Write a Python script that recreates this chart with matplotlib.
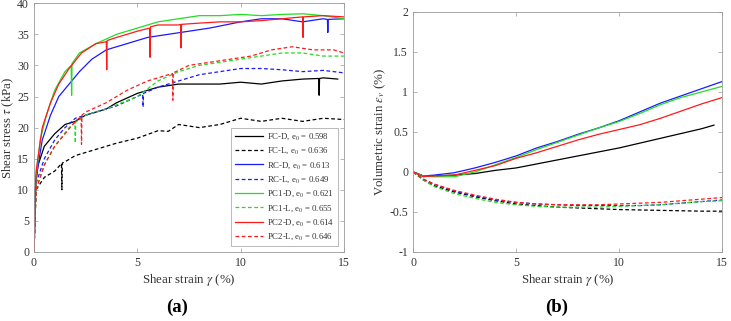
import numpy as np
import matplotlib
matplotlib.use("Agg")
import matplotlib.pyplot as plt

plt.rcParams['font.family'] = ['Liberation Serif', 'DejaVu Serif']
plt.rcParams['mathtext.fontset'] = 'stix'

# ---- (a) shear stress vs shear strain (spikes included as read) ----
fcd_x = [0, 0.05, 0.2, 0.5, 1, 1.5, 2, 2.5, 3.5, 4, 5, 6, 7, 8, 9, 10, 11, 12, 13, 13.78, 13.8, 13.82, 14, 14.7]
fcd_y = [0, 10, 14, 17, 19, 20.5, 21, 22, 23, 24, 25.5, 26.5, 27, 27, 27, 27.3, 27, 27.5, 27.8, 27.9, 25.2, 27.9, 28, 27.8]

fcl_x = [0, 0.1, 0.5, 1, 1.33, 1.35, 1.37, 1.5, 2, 2.5, 3, 4, 5, 6, 6.5, 7, 8, 9, 10, 11, 12, 13, 14, 15]
fcl_y = [0, 10, 12, 13, 14.2, 10, 14.3, 14.5, 15.5, 16, 16.5, 17.5, 18.3, 19.5, 19.4, 20.5, 20, 20.5, 21.5, 21, 21.5, 21, 21.5, 21.3]

rcd_x = [0, 0.1, 0.4, 0.8, 1.2, 1.7, 2.2, 2.8, 3.5, 4.5, 5.5, 6.5, 7.5, 8.5, 10, 11, 12, 13, 14, 14.2, 14.22, 14.24, 15]
rcd_y = [0, 12, 18, 22, 25, 27, 29, 31, 32.5, 33.5, 34.5, 35, 35.5, 36, 37, 37.5, 37.5, 37, 37.5, 37.4, 35.3, 37.4, 37.5]

rcl_x = [0, 0.1, 0.5, 1, 1.5, 2, 3, 4, 5, 5.26, 5.28, 5.3, 6, 7, 8, 9, 10, 11, 12, 13, 14, 15]
rcl_y = [0, 11, 15, 18, 20, 21.5, 22.5, 23.5, 25, 25.4, 23.3, 25.5, 26.5, 27.5, 28.5, 29, 29.5, 29.5, 29.3, 29, 29.2, 28.8]

p1d_x = [0, 0.1, 0.3, 0.6, 1, 1.5, 1.8, 1.82, 1.84, 2.2, 3, 4, 5, 6, 7, 8, 9, 10, 11, 12, 13, 14, 15]
p1d_y = [0, 12, 18, 22, 26, 29, 30, 25.2, 30.3, 32, 33.5, 35, 36, 37, 37.5, 38, 38, 38.2, 38, 38.2, 38.3, 38, 37.5]

p1l_x = [0, 0.1, 0.5, 1, 1.7, 1.98, 2, 2.02, 2.5, 3.5, 5, 6, 7, 8, 9, 10, 11, 12, 13, 14, 15]
p1l_y = [0, 10, 14, 17, 20, 20.8, 17.5, 20.9, 22, 23, 25, 27.5, 29, 30, 30.5, 31, 31.5, 32, 32, 31.5, 31.5]

p2d_x = [0, 0.1, 0.4, 0.8, 1.2, 1.7, 2.3, 3, 3.5, 3.52, 3.54, 4, 5, 5.6, 5.62, 5.64, 6, 7, 7.1, 7.12, 7.14,
         8, 9, 10, 11, 12, 13, 13.02, 13.04, 14, 15]
p2d_y = [0, 13, 20, 24, 27, 29.5, 32, 33.5, 33.8, 29.3, 34, 34.5, 35.5, 36, 31.3, 36.2, 36.5, 36.5, 36.6, 32.8, 36.6,
         36.8, 37, 37, 37.2, 37.5, 37.8, 34.5, 37.8, 38, 37.8]

p2l_x = [0, 0.1, 0.5, 1, 1.5, 2, 2.28, 2.3, 2.32, 2.5, 3.5, 4.5, 5.5, 6.5, 6.7, 6.72, 6.74, 7.5, 8.5, 9.5, 10.5, 11.5, 12.5, 13.5, 14.5, 15]
p2l_y = [0, 10, 14, 17, 19, 21, 21.8, 17.3, 22, 22.5, 24, 26, 27.5, 28.5, 28.7, 24.4, 28.8, 30, 30.5, 31, 31.5, 32.5, 33, 32.5, 32.5, 32]

# ---- (b) volumetric strain vs shear strain ----
gam_b = [0, 0.5, 1, 2, 3, 4, 5, 6, 7, 8, 9, 10, 11, 12, 13, 14, 15]
fcd_ev = [0, -0.05, -0.05, -0.04, -0.02, 0.02, 0.05, 0.1, 0.15, 0.2, 0.25, 0.3, 0.36, 0.42, 0.48, 0.54, np.nan]
fcl_ev = [0, -0.1, -0.17, -0.25, -0.31, -0.36, -0.4, -0.42, -0.44, -0.45, -0.46, -0.47, -0.475, -0.48, -0.485, -0.49, -0.49]
rcd_ev = [0, -0.05, -0.04, -0.01, 0.05, 0.12, 0.2, 0.3, 0.38, 0.47, 0.55, 0.64, 0.75, 0.86, 0.95, 1.04, 1.13]
rcl_ev = [0, -0.09, -0.15, -0.24, -0.3, -0.35, -0.38, -0.4, -0.41, -0.42, -0.42, -0.42, -0.42, -0.41, -0.39, -0.37, -0.35]
p1d_ev = [0, -0.05, -0.06, -0.06, 0.0, 0.09, 0.18, 0.28, 0.37, 0.46, 0.55, 0.63, 0.73, 0.84, 0.93, 1.0, 1.07]
p1l_ev = [0, -0.1, -0.18, -0.27, -0.33, -0.38, -0.41, -0.43, -0.44, -0.44, -0.44, -0.43, -0.42, -0.41, -0.39, -0.37, -0.36]
p2d_ev = [0, -0.06, -0.05, -0.04, 0.02, 0.08, 0.17, 0.24, 0.32, 0.4, 0.47, 0.53, 0.59, 0.67, 0.76, 0.85, 0.93]
p2l_ev = [0, -0.09, -0.15, -0.23, -0.29, -0.34, -0.38, -0.4, -0.41, -0.41, -0.41, -0.4, -0.39, -0.38, -0.36, -0.34, -0.32]
fcd_end = (14.6, 0.585)

labels = ["FC-D, e$_0$ = 0.598", "FC-L, e$_0$ = 0.636",
          "RC-D, e$_0$ = 0.613", "RC-L, e$_0$ = 0.649",
          "PC1-D, e$_0$ = 0.621", "PC1-L, e$_0$ = 0.655",
          "PC2-D, e$_0$ = 0.614", "PC2-L, e$_0$ = 0.646"]
colors = ["black", "black", "#1a1aff", "#1a1aff", "#22dd22", "#22dd22", "#ff1a1a", "#ff1a1a"]
styles = ["-", "--"] * 4

stress = [(fcd_x, fcd_y), (fcl_x, fcl_y), (rcd_x, rcd_y), (rcl_x, rcl_y),
          (p1d_x, p1d_y), (p1l_x, p1l_y), (p2d_x, p2d_y), (p2l_x, p2l_y)]
vol = [fcd_ev, fcl_ev, rcd_ev, rcl_ev, p1d_ev, p1l_ev, p2d_ev, p2l_ev]

fig = plt.figure(figsize=(7.31, 3.21), dpi=100)
ax1 = fig.add_axes([0.0465, 0.215, 0.424, 0.775])
ax2 = fig.add_axes([0.565, 0.215, 0.423, 0.748])

spine_col = "#9a9a9a"
text_col = "#333333"
for ax in (ax1, ax2):
    for s in ax.spines.values():
        s.set_color(spine_col)
        s.set_linewidth(0.6)
    ax.tick_params(direction="in", length=3, width=0.5, color=spine_col,
                   labelsize=8.5, labelcolor=text_col, top=True, right=True)
    ax.set_xlim(0, 15)
    ax.set_xticks([0, 5, 10, 15])
    ax.set_xlabel(r"Shear strain $\gamma$ (%)", fontsize=9.3, color=text_col, labelpad=2)

for i in range(8):
    x, y = stress[i]
    ax1.plot(x, y, color=colors[i], ls=styles[i], lw=0.9, label=labels[i],
             dashes=(3, 2) if styles[i] == "--" else (None, None))
ax1.set_ylim(0, 40)
ax1.set_yticks(range(0, 41, 5))
ax1.set_ylabel(r"Shear stress $\tau$ (kPa)", fontsize=9.3, color=text_col, labelpad=1)
leg = ax1.legend(loc="lower right", fontsize=6.3, frameon=True, fancybox=False,
                 edgecolor=spine_col, handlelength=3.2, labelspacing=0.45,
                 borderaxespad=0.7, handletextpad=0.5)
leg.get_frame().set_linewidth(0.6)
for t in leg.get_texts():
    t.set_color(text_col)

for i in range(8):
    y = list(vol[i])
    x = list(gam_b)
    if i == 0:
        x = x[:-1] + [fcd_end[0]]
        y = y[:-1] + [fcd_end[1]]
    ax2.plot(x, y, color=colors[i], ls=styles[i], lw=0.9,
             dashes=(3, 2) if styles[i] == "--" else (None, None))
ax2.set_ylim(-1, 2)
ax2.set_yticks([-1, -0.5, 0, 0.5, 1, 1.5, 2])
ax2.set_yticklabels(["-1", "-0.5", "0", "0.5", "1", "1.5", "2"])
ax2.set_ylabel(r"Volumetric strain $\epsilon_v$ (%)", fontsize=9.3, color=text_col, labelpad=1)

fig.text(0.242, 0.015, "(a)", fontsize=13.5, fontweight="bold", ha="center", va="bottom")
fig.text(0.762, 0.015, "(b)", fontsize=13.5, fontweight="bold", ha="center", va="bottom")

fig.savefig("out.png", dpi=100)
